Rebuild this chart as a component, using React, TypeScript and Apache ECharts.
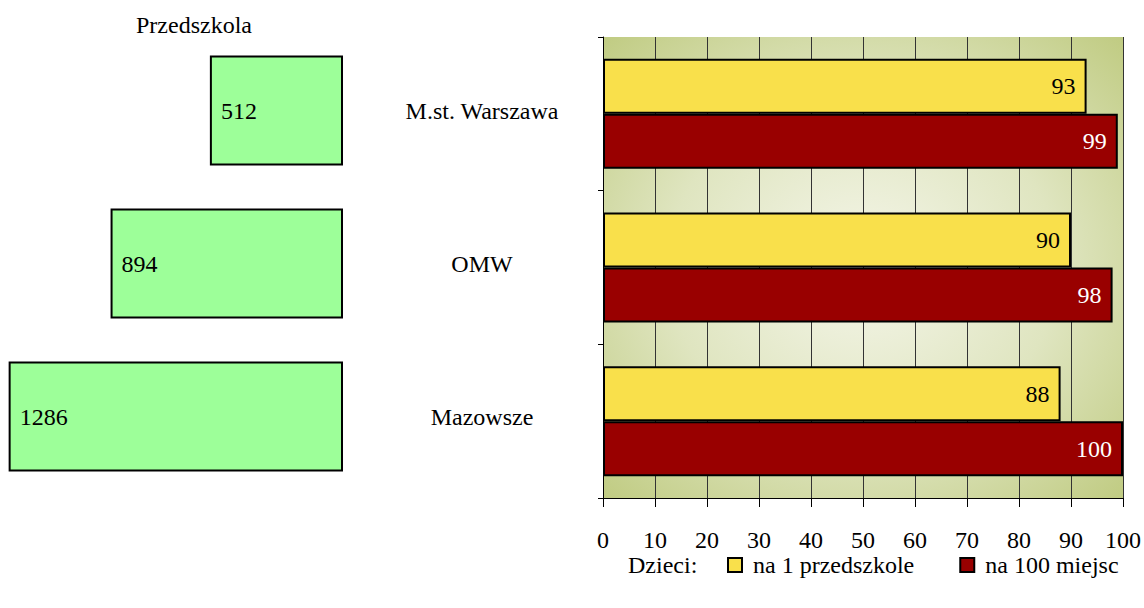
import React, { useEffect, useRef } from "react";
import * as echarts from "echarts";

const regions = ["Mazowsze", "OMW", "M.st. Warszawa"];
const kindergartens = [1286, 894, 512];
const perKindergarten = [88, 90, 93];
const per100Places = [100, 98, 99];
const xTicks = [0, 10, 20, 30, 40, 50, 60, 70, 80, 90, 100];
const leftTitle = "Przedszkola";
const legendTitle = "Dzieci:";
const seriesNames = ["na 1 przedszkole", "na 100 miejsc"];

const FONT = "Liberation Serif";
const FS = 24;

export default function App() {
  const ref = useRef<HTMLDivElement>(null);
  useEffect(() => {
    if (!ref.current) return;
    const chart = echarts.init(ref.current, null, { renderer: "svg" });
    chart.setOption({
      animation: false,
      textStyle: { fontFamily: FONT },
      grid: [
        { left: 5, width: 338, top: 34, height: 459 },
        {
          left: 603,
          right: 20,
          top: 37,
          bottom: 110,
          show: true,
          borderWidth: 0,
          backgroundColor: {
            type: "radial",
            x: 0.5,
            y: 0.5,
            r: 0.75,
            colorStops: [
              { offset: 0, color: "#f5f6ea" },
              { offset: 0.5, color: "#dfe5c0" },
              { offset: 1, color: "#bcc87a" },
            ],
          },
        },
      ],
      xAxis: [
        {
          gridIndex: 0,
          type: "value",
          min: 0,
          max: 1300,
          inverse: true,
          show: false,
        },
        {
          gridIndex: 1,
          type: "value",
          min: 0,
          max: 100,
          interval: 10,
          axisLine: { show: true, lineStyle: { color: "#000", width: 1 } },
          axisTick: { show: true, length: 9, lineStyle: { color: "#000" } },
          axisLabel: {
            margin: 30,
            fontSize: FS,
            color: "#000",
            fontFamily: FONT,
            formatter: (v: number) => (xTicks.includes(v) ? String(v) : ""),
          },
          splitLine: { show: true, lineStyle: { color: "#333", width: 1 } },
        },
      ],
      yAxis: [
        {
          gridIndex: 0,
          type: "category",
          data: regions,
          position: "right",
          axisLine: { show: false, onZero: false },
          axisTick: { show: false },
          axisLabel: {
            margin: 139,
            align: "center",
            fontSize: FS,
            color: "#000",
            fontFamily: FONT,
          },
        },
        {
          gridIndex: 1,
          type: "category",
          data: regions,
          axisLine: { show: true, lineStyle: { color: "#000", width: 1 } },
          axisTick: { show: true, length: 5, inside: false, lineStyle: { color: "#000" } },
          axisLabel: { show: false },
        },
      ],
      legend: {
        data: seriesNames,
        left: 727,
        top: 553,
        padding: 0,
        itemWidth: 14,
        itemHeight: 14,
        itemGap: 45,
        icon: "rect",
        textStyle: { fontSize: FS, color: "#000", fontFamily: FONT, padding: [0, 0, 0, 6] },
      },
      graphic: [
        {
          type: "text",
          left: 136,
          top: 13,
          style: { text: leftTitle, fontSize: FS, fill: "#000", fontFamily: FONT },
        },
        {
          type: "text",
          left: 628,
          top: 553,
          style: { text: legendTitle, fontSize: FS, fill: "#000", fontFamily: FONT },
        },
      ],
      series: [
        {
          type: "bar",
          name: leftTitle,
          xAxisIndex: 0,
          yAxisIndex: 0,
          data: kindergartens,
          barWidth: 110,
          itemStyle: { color: "#9dff99", borderColor: "#000", borderWidth: 2 },
          label: {
            show: true,
            position: "insideLeft",
            distance: 11,
            fontSize: FS,
            color: "#000",
            fontFamily: FONT,
          },
        },
        {
          type: "bar",
          name: seriesNames[0],
          xAxisIndex: 1,
          yAxisIndex: 1,
          data: perKindergarten,
          barWidth: 55,
          barGap: "0%",
          itemStyle: { color: "#f9e04b", borderColor: "#000", borderWidth: 2 },
          label: {
            show: true,
            position: "insideRight",
            distance: 11,
            fontSize: FS,
            color: "#000",
            fontFamily: FONT,
          },
        },
        {
          type: "bar",
          name: seriesNames[1],
          xAxisIndex: 1,
          yAxisIndex: 1,
          data: per100Places,
          barWidth: 55,
          barGap: "0%",
          itemStyle: { color: "#990000", borderColor: "#000", borderWidth: 2 },
          label: {
            show: true,
            position: "insideRight",
            distance: 11,
            fontSize: FS,
            color: "#fff",
            fontFamily: FONT,
          },
        },
      ],
    });
    return () => chart.dispose();
  }, []);
  return (
    <div
      ref={ref}
      style={{ position: "absolute", left: 0, top: 0, width: 1144, height: 608, background: "#fff" }}
    />
  );
}
